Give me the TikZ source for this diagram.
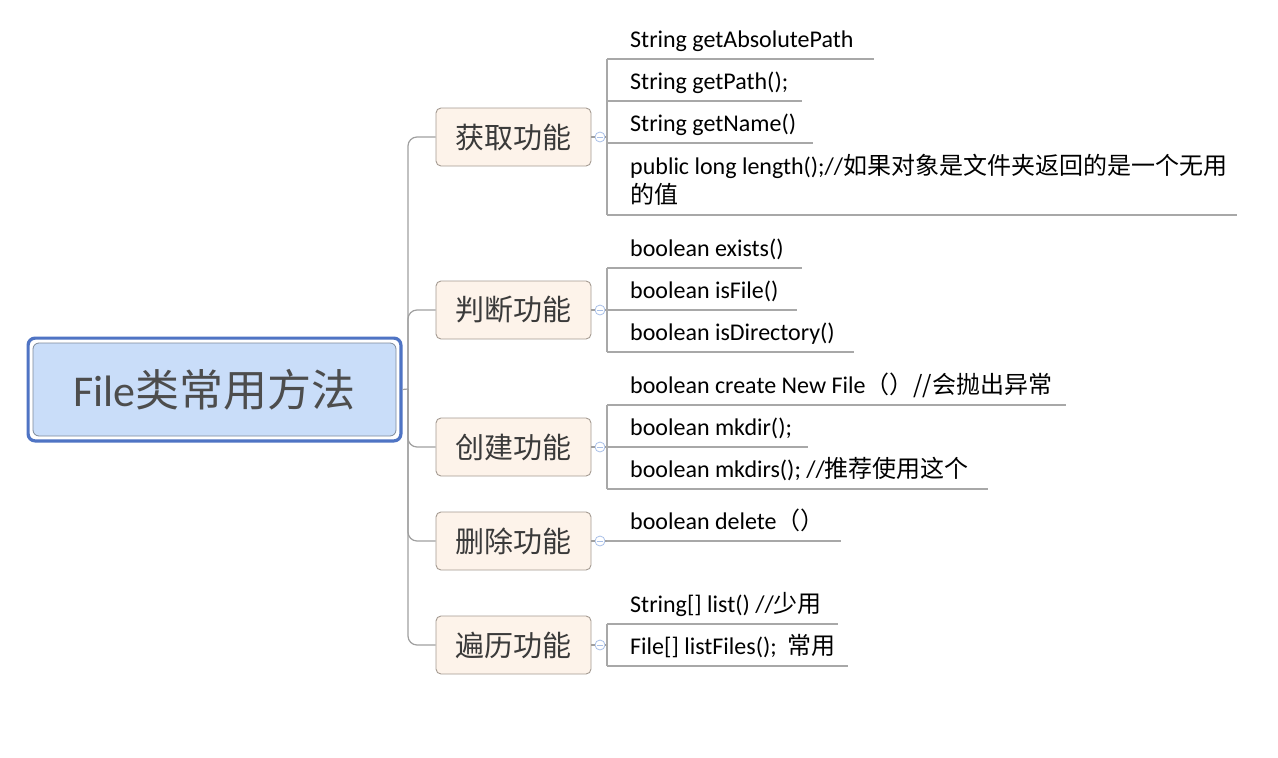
\documentclass[tikz,border=0pt]{standalone}
\usepackage{fontspec}
\setmainfont{Carlito}
\newfontfamily\cjk{Noto Sans CJK SC}
\usetikzlibrary{fit}
\definecolor{rootblue}{HTML}{4F74C4}
\definecolor{rootfill}{HTML}{C9DDF9}
\definecolor{rootedge}{HTML}{7F8A99}
\definecolor{roottext}{HTML}{4D4D4D}
\definecolor{brfill}{HTML}{FDF3EA}
\definecolor{bredge}{HTML}{A59B92}
\definecolor{brtext}{HTML}{3A3A3A}
\definecolor{conncol}{HTML}{A0A0A0}
\definecolor{ulcol}{HTML}{A8A8A8}
\definecolor{togcol}{HTML}{A9C0E8}
\begin{document}
\begin{tikzpicture}[x=1pt,y=-1pt,
  rootin/.style={draw=rootedge, line width=0.8pt, fill=rootfill, rounded corners=6pt,
    minimum width=363pt, minimum height=93pt, inner sep=0pt, text=roottext,
    font=\fontsize{44}{50}\selectfont},
  rootout/.style={draw=rootblue, line width=3.2pt, rounded corners=7pt, inner sep=4.5pt},
  branch/.style={draw=bredge, line width=0.9pt, fill=brfill, rounded corners=5pt,
    minimum width=155pt, minimum height=58pt, inner sep=0pt, text=brtext,
    font=\cjk\fontsize{29}{34}\selectfont},
  conn/.style={draw=conncol, line width=1.2pt},
  uline/.style={draw=ulcol, line width=1.2pt},
  tog/.style={circle, draw=togcol, fill=white, line width=0.8pt, minimum size=10pt, inner sep=0pt,
    path picture={\draw[togcol, line width=0.8pt] ([xshift=-3pt]path picture bounding box.center) -- ([xshift=3pt]path picture bounding box.center);}},
  leaf/.style={anchor=base west, inner sep=0pt, align=left, text=black,
    font=\fontsize{24}{29}\selectfont}
]
\path[fill=white, use as bounding box] (0,0) rectangle (1278,758);

% root
\node[rootin] (rootin) at (214.5,389.5) {File\cjk{类常用方法}};
\node[rootout, fit=(rootin)] (root) {};

% branches
\node[branch] (b1) at (513.5,137) {获取功能};
\node[branch] (b2) at (513.5,310) {判断功能};
\node[branch] (b3) at (513.5,447) {创建功能};
\node[branch] (b4) at (513.5,541) {删除功能};
\node[branch] (b5) at (513.5,645) {遍历功能};

% trunk
\coordinate (tk) at (408,389);
\draw[conn] (root.east) -- (tk);
\foreach \b in {b1,b2,b3,b4,b5}{
  \draw[conn, rounded corners=9pt] (tk) |- (\b.west);
}

% toggles and bracket joins
\node[tog] (t1) at (600,137) {};
\node[tog] (t2) at (600,310) {};
\node[tog] (t3) at (600,447) {};
\node[tog] (t4) at (600,541) {};
\node[tog] (t5) at (600,645) {};
\coordinate (k1) at (607,137);
\coordinate (k2) at (607,310);
\coordinate (k3) at (607,447);
\coordinate (k4) at (607,541);
\coordinate (k5) at (607,645);
\foreach \i in {1,...,5}{
  \draw[conn] (b\i.east) -- (t\i.west);
  \draw[conn] (t\i.east) -- (k\i);
}

% group 1
\draw[uline] (607,59) -- (607,215);
\node[leaf] (l1) at (630,47) {String getAbsolutePath};
\draw[uline] (607,59) -- (874,59);
\node[leaf] (l2) at (630,89) {String getPath();};
\draw[uline] (607,101) -- (802,101);
\node[leaf] (l3) at (630,131) {String getName()};
\draw[uline] (607,143) -- (813,143);
\node[leaf] (l4) at (630,203) {public long length();//\cjk{如果对象是文件夹返回的是一个无用}\\\cjk{的值}};
\draw[uline] (607,215) -- (1237,215);

% group 2
\draw[uline] (607,268) -- (607,352);
\node[leaf] (l5) at (630,256) {boolean exists()};
\draw[uline] (607,268) -- (802,268);
\node[leaf] (l6) at (630,298) {boolean isFile()};
\draw[uline] (607,310) -- (797,310);
\node[leaf] (l7) at (630,340) {boolean isDirectory()};
\draw[uline] (607,352) -- (854,352);

% group 3
\draw[uline] (607,405) -- (607,489);
\node[leaf] (l8) at (630,393) {boolean create New File\cjk{（）}//\cjk{会抛出异常}};
\draw[uline] (607,405) -- (1066,405);
\node[leaf] (l9) at (630,435) {boolean mkdir();};
\draw[uline] (607,447) -- (808,447);
\node[leaf] (l10) at (630,477) {boolean mkdirs(); //\cjk{推荐使用这个}};
\draw[uline] (607,489) -- (988,489);

% group 4
\node[leaf] (l11) at (630,529) {boolean delete\cjk{（）}};
\draw[uline] (607,541) -- (841,541);

% group 5
\draw[uline] (607,624) -- (607,666);
\node[leaf] (l12) at (630,612) {String[] list() //\cjk{少用}};
\draw[uline] (607,624) -- (838,624);
\node[leaf] (l13) at (630,654) {File[] listFiles();\ \ \cjk{常用}};
\draw[uline] (607,666) -- (848,666);
\end{tikzpicture}
\end{document}
